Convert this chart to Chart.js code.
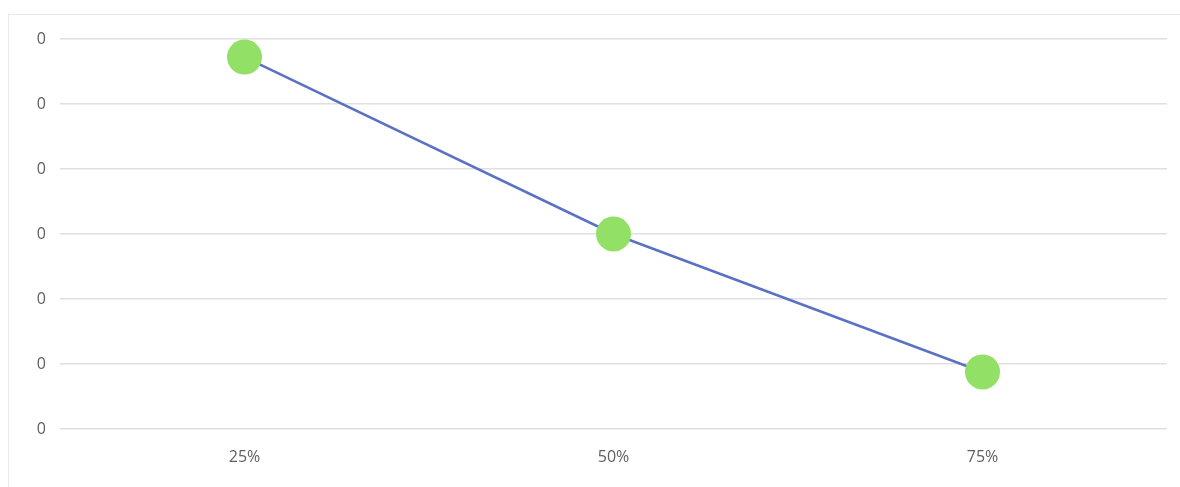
<!DOCTYPE html>
<html>
<head>
<meta charset="utf-8">
<script src="https://cdn.jsdelivr.net/npm/chart.js@4"></script>
<style>
    html, body { margin: 0; padding: 0; background: #fff; }
    #wrap {
        position: absolute;
        left: 8px;
        top: 14px;
        width: 1171px;
        height: 472px;
        border-top: 1px solid #e8e8e8;
        border-left: 1px solid #e8e8e8;
    }
    #grafica { display: block; }
</style>
</head>
<body>
<div id="wrap"><canvas id="grafica" width="1171" height="472"></canvas></div>
<script>
// Categories and values
const categorias = ['25%', '50%', '75%'];
const valores = [0.005723, 0.003, 0.000877];
const yMin = 0;
const yMax = 0.006;
const yPaso = 0.001;

document.addEventListener('DOMContentLoaded', () => {
    lineaGrafica();
});

const lineaGrafica = () => {
    const grafica = document.getElementById('grafica');
    new Chart(grafica, {
        type: 'line',
        data: {
            labels: categorias,
            datasets: [{
                data: valores,
                borderColor: '#5b72c4',
                borderWidth: 2.5,
                pointBackgroundColor: '#92e065',
                pointBorderColor: '#92e065',
                pointBorderWidth: 0,
                pointRadius: 17.5,
                pointHoverRadius: 17.5,
                tension: 0
            }]
        },
        options: {
            responsive: false,
            animation: false,
            // no auto padding, so the big points don't shrink the plot area
            layout: { autoPadding: false, padding: { left: 0, right: 13, top: 24, bottom: 0 } },
            plugins: {
                legend: { display: false },
                tooltip: { enabled: false }
            },
            scales: {
                x: {
                    offset: true,
                    grid: { display: false, drawTicks: false },
                    border: { display: false },
                    ticks: {
                        padding: 19,
                        color: '#5f5f5f',
                        font: { family: 'Open Sans', size: 16 }
                    },
                    afterFit: s => { s.height = 58; }
                },
                y: {
                    min: yMin,
                    max: yMax,
                    grid: { color: '#e0e0e0', lineWidth: 1.5, drawTicks: false },
                    border: { display: false },
                    ticks: {
                        stepSize: yPaso,
                        padding: 14,
                        color: '#5f5f5f',
                        font: { family: 'Open Sans', size: 16 },
                        callback: v => v.toFixed(0)
                    },
                    afterFit: s => { s.width = 51; }
                }
            }
        }
    });
};
</script>
</body>
</html>
